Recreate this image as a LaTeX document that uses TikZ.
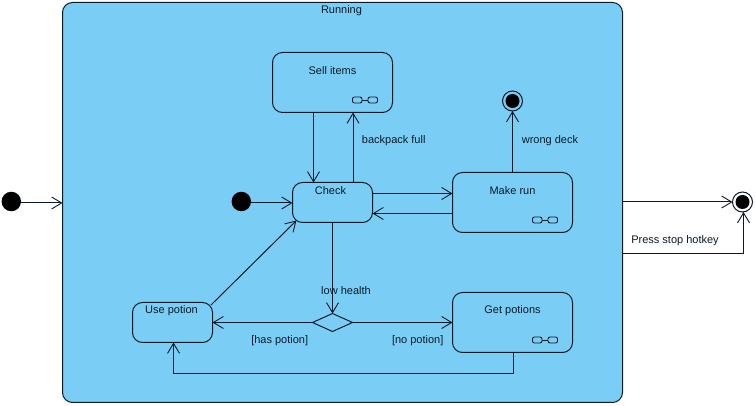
\documentclass[tikz,border=0pt]{standalone}
\usepackage{fontspec}
\setmainfont{Liberation Sans}
\usetikzlibrary{arrows.meta,shapes.geometric}
\definecolor{fillblue}{HTML}{7ACEF5}
\definecolor{inkdark}{HTML}{0A1A28}
\tikzset{
  x=1pt,y=-1pt,
  statebox/.style={draw=inkdark,line width=1pt,rounded corners=10pt,fill=fillblue,inner sep=0pt,outer sep=0pt},
  simplebox/.style={statebox,minimum width=80pt,minimum height=40pt},
  subbox/.style={statebox,minimum width=120pt,minimum height=60pt},
  titletext/.style={text=inkdark,font=\fontsize{11}{13}\selectfont,inner sep=0pt,anchor=center},
  simpletitle/.style={label={[titletext,yshift=-8pt]north:#1}},
  subtitle/.style={label={[titletext,yshift=-18pt]north:#1}},
  soliddot/.style={circle,fill=black,draw=none,inner sep=0pt,outer sep=0pt,minimum size=#1},
  finalring/.style={circle,draw=inkdark,line width=1pt,inner sep=0pt,outer sep=0pt,minimum size=20pt},
  decisionbox/.style={diamond,draw=inkdark,line width=1pt,fill=fillblue,inner sep=0pt,outer sep=0pt,minimum width=40pt,minimum height=18pt,shape aspect=2.2},
  flow/.style={draw=inkdark,line width=1pt,-{Straight Barb[length=10pt,width=12pt,line width=0.9pt]}},
  edgetext/.style={text=inkdark,font=\fontsize{11}{13}\selectfont,inner sep=0pt},
  iconpart/.style={draw=inkdark,line width=0.9pt,rounded corners=2pt}
}
\newcommand{\subicon}[1]{%
  \draw[iconpart] ([shift={(-40pt,9.5pt)}]#1.south east) rectangle ([shift={(-30.5pt,15.5pt)}]#1.south east);
  \draw[iconpart] ([shift={(-24.5pt,9.5pt)}]#1.south east) rectangle ([shift={(-15pt,15.5pt)}]#1.south east);
  \draw[iconpart] ([shift={(-30.5pt,12.5pt)}]#1.south east) -- ([shift={(-24.5pt,12.5pt)}]#1.south east);
}
\begin{document}
\begin{tikzpicture}
\useasboundingbox[fill=white] (0,0) rectangle (756,406);
\node[statebox,minimum width=560pt,minimum height=400pt,label={[titletext,yshift=-8.5pt,xshift=-1pt]north:Running}] (running) at (342.5,202.5) {};
\node[subbox,subtitle={Sell items}] (sell) at (332.5,82.5) {};
\node[simplebox,label={[titletext,yshift=-8pt,xshift=-2pt]north:Check}] (check) at (332.5,202.5) {};
\node[subbox,subtitle={Make run}] (make) at (512.5,202.5) {};
\node[simplebox,label={[titletext,yshift=-8pt,xshift=-1pt]north:Use potion}] (use) at (172.5,322.5) {};
\node[subbox,subtitle={Get potions}] (get) at (512.5,322.5) {};
\node[decisionbox] (choice) at (332.5,322.5) {};
\node[soliddot=19.5pt] (startouter) at (11.3,201.5) {};
\node[soliddot=19.5pt] (startinner) at (241.3,201.5) {};
\node[finalring] (endinner) at (512.5,101) {};
\node[soliddot=14pt] (endinnerdot) at (endinner) {};
\node[finalring,fill=none] (endouter) at (742.5,202) {};
\node[soliddot=14pt] (endouterdot) at (endouter) {};
\subicon{sell}
\subicon{make}
\subicon{get}
\coordinate (bendA) at (513.5,373.5);
\coordinate (bendB) at (173.5,373.5);
\coordinate (bendC) at (743.5,253.5);
\coordinate (runexit) at (622.5,253.5);
% connectors
\draw[flow] ([yshift=-1.5pt]startouter.east) -- ([yshift=-1.5pt]startouter.east -| running.west);
\draw[flow] ([yshift=-1.5pt]startinner.east) -- ([yshift=-1.5pt]startinner.east -| check.west);
\draw[flow] ([xshift=-19pt]sell.south) -- ([xshift=-19pt]check.north);
\draw[flow] ([xshift=20.5pt]check.north) -- ([xshift=20.5pt]sell.south);
\draw[flow] ([yshift=9pt]check.east) -- ([yshift=9pt]make.west);
\draw[flow] ([yshift=-11pt]make.west) -- ([yshift=-11pt]check.east);
\draw[flow] (make.north) -- (endinner.south);
\draw[flow] (check.south) -- (choice.north);
\draw[flow] (choice.west) -- (use.east);
\draw[flow] (choice.east) -- (get.west);
\draw[flow] ([shift={(-1.5pt,-2.5pt)}]use.north east) -- ([shift={(4pt,2pt)}]check.south west);
\draw[flow] (bendA |- get.south) -- (bendA) -- (bendB) -- (bendB |- use.south);
\draw[flow] (running.east |- endouter) -- (endouter.west);
\draw[flow] (runexit) -- (bendC) -- ([xshift=1pt]endouter.south);
% labels
\node[edgetext] (lblbackpack) at (393.7,141) {backpack full};
\node[edgetext] (lblwrong) at (550,141) {wrong deck};
\node[edgetext] (lbllow) at (346,291) {low health};
\node[edgetext] (lblhas) at (279.7,340.5) {[has potion]};
\node[edgetext] (lblno) at (417.7,340.5) {[no potion]};
\node[edgetext] (lblstop) at (675,240.5) {Press stop hotkey};
\end{tikzpicture}
\end{document}
